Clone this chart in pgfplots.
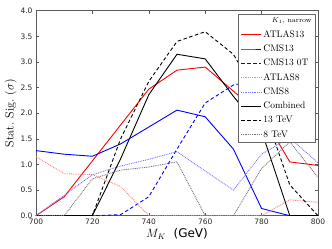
\documentclass[border=0pt]{standalone}
\usepackage{fontspec}
\usepackage{pgfplots}
\pgfplotsset{compat=1.18}
\newfontfamily\dejavu{DejaVu Sans}
\begin{document}
\begin{tikzpicture}
\begin{axis}[
  scale only axis, width=282pt, height=205pt,
  xmin=700, xmax=800, ymin=0, ymax=4,
  xtick={700,720,...,800}, ytick={0,0.5,...,4},
  tick align=inside, ticks=both,
  xtick pos=both, ytick pos=both,
  major tick length=3pt,
  axis line style={gray!70!black, line width=0.8pt},
  tick style={gray!70!black, line width=0.6pt},
  /pgf/number format/assume math mode=true,
  xticklabel style={font=\dejavu\fontsize{7.5}{8}\selectfont, text=black!85},
  yticklabel style={font=\dejavu\fontsize{7.5}{8}\selectfont, text=black!85, /pgf/number format/.cd, fixed, fixed zerofill, precision=1},
  xlabel={$M_K$ \ {\dejavu (GeV)}},
  xlabel style={font=\fontsize{12}{13}\selectfont, yshift=3pt},
  ylabel={Stat.\ Sig.\ ($\sigma$)},
  ylabel style={font=\fontsize{12}{13}\selectfont, yshift=-3pt},
  legend style={at={(rel axis cs:0.993,0.985)}, anchor=north east,
    font=\fontsize{9.5}{11.5}\selectfont, draw=gray!80!black, line width=0.7pt,
    row sep=2.1pt, inner sep=2pt},
  legend cell align=left,
  legend image code/.code={\draw[mark repeat=2,mark phase=2] plot coordinates {(0cm,0cm) (0.35cm,0cm) (0.7cm,0cm)};},
  every axis plot/.append style={line width=0.9pt},
]
\addplot[forget plot, red, no marks] coordinates {(700,0) (710,0.37) (720,1.07) (730,1.77) (740,2.47) (750,2.84) (760,2.90) (770,2.43) (780,1.98) (790,1.05) (800,0.98)};
\addplot[forget plot, blue, no marks] coordinates {(700,1.27) (710,1.20) (720,1.16) (730,1.40) (740,1.73) (750,2.06) (760,1.93) (770,1.30) (780,0.14) (790,0) (800,0)};
\addplot[forget plot, blue, no marks, dash pattern=on 3.5pt off 2.5pt] coordinates {(700,0) (710,0) (720,0) (730,0.02) (740,0.37) (750,1.30) (760,2.20) (770,2.55) (780,2.65) (790,2.40) (800,2.05)};
\addplot[forget plot, red!50, no marks, dash pattern=on 0.9pt off 0.9pt] coordinates {(700,1.15) (710,0.82) (720,0.80) (730,0.57) (740,0) (750,0) (760,0) (770,0) (780,0) (790,0.31) (800,0.26)};
\addplot[forget plot, blue!55, no marks, dash pattern=on 0.9pt off 0.9pt] coordinates {(700,0) (710,0.40) (720,0.80) (730,0.97) (740,1.10) (750,1.25) (760,0.87) (770,0.50) (780,1.20) (790,1.52) (800,1.03)};
\addplot[forget plot, black, no marks] coordinates {(700,0) (710,0) (720,0) (730,1.11) (740,2.36) (750,3.15) (760,3.06) (770,2.33) (780,1.65) (790,0) (800,0)};
\addplot[forget plot, black, no marks, dash pattern=on 3.5pt off 2.5pt] coordinates {(700,0) (710,0) (720,0) (730,1.50) (740,2.62) (750,3.40) (760,3.59) (770,3.15) (780,2.20) (790,0.60) (800,0)};
\addplot[forget plot, black!55, no marks, dash pattern=on 0.9pt off 0.9pt] coordinates {(700,0) (710,0) (720,0.72) (730,0.89) (740,0.95) (750,1.05) (760,0) (770,0) (780,0.92) (790,1.44) (800,0.75)};
\addlegendimage{empty legend}
\addlegendentry{\hspace{0.9em}{\fontsize{7}{7}\selectfont$K_1$, narrow}}
\addlegendimage{red, line width=0.9pt}
\addlegendentry{ATLAS13}
\addlegendimage{blue, line width=0.9pt}
\addlegendentry{CMS13}
\addlegendimage{blue, line width=0.9pt, dash pattern=on 3.5pt off 2.5pt}
\addlegendentry{CMS13 0T}
\addlegendimage{red!50, line width=0.9pt, dash pattern=on 0.9pt off 0.9pt}
\addlegendentry{ATLAS8}
\addlegendimage{blue!55, line width=0.9pt, dash pattern=on 0.9pt off 0.9pt}
\addlegendentry{CMS8}
\addlegendimage{black, line width=0.9pt}
\addlegendentry{Combined}
\addlegendimage{black, line width=0.9pt, dash pattern=on 3.5pt off 2.5pt}
\addlegendentry{13 TeV}
\addlegendimage{black!55, line width=0.9pt, dash pattern=on 0.9pt off 0.9pt}
\addlegendentry{8 TeV}
\end{axis}
\pgfresetboundingbox
\path (-36pt,-33.3pt) rectangle (296pt,215.7pt);
\end{tikzpicture}
\end{document}
